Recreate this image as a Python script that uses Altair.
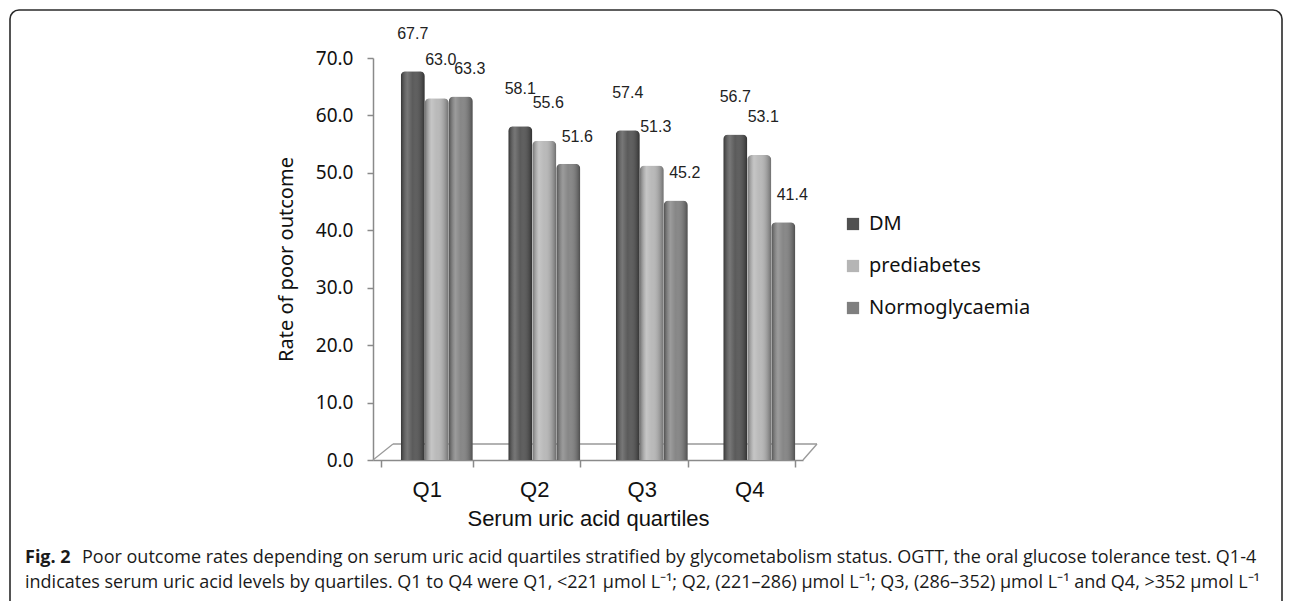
import altair as alt
import pandas as pd

# Poor outcome rate (%) by serum uric acid quartile and glycometabolism status
quartiles = ["Q1", "Q2", "Q3", "Q4"]
groups = ["DM", "prediabetes", "Normoglycaemia"]
dm_rates = [67.7, 58.1, 57.4, 56.7]
prediabetes_rates = [63.0, 55.6, 51.3, 53.1]
normo_rates = [63.3, 51.6, 45.2, 41.4]
y_ticks = [0, 10, 20, 30, 40, 50, 60, 70]

group_colors = ["#505050", "#b5b5b5", "#7f7f7f"]

caption_bold = "Fig. 2"
caption_line1 = ("Poor outcome rates depending on serum uric acid quartiles stratified by "
                 "glycometabolism status. OGTT, the oral glucose tolerance test. Q1-4")
caption_line2 = ("indicates serum uric acid levels by quartiles. Q1 to Q4 were Q1, <221 \u03bcmol L\u207b\u00b9; "
                 "Q2, (221\u2013286) \u03bcmol L\u207b\u00b9; Q3, (286\u2013352) \u03bcmol L\u207b\u00b9 "
                 "and Q4, >352 \u03bcmol L\u207b\u00b9")

rows = []
for g, series in zip(groups, [dm_rates, prediabetes_rates, normo_rates]):
    for q, v in zip(quartiles, series):
        rows.append({"quartile": q, "group": g, "value": v})
df = pd.DataFrame(rows)

W, H = 430, 402
LEFT, TOP = 373, 58

x_enc = alt.X(
    "quartile:N",
    sort=quartiles,
    scale=alt.Scale(paddingInner=0.144, paddingOuter=0.072),
    axis=alt.Axis(
        title="Serum uric acid quartiles", labelAngle=0,
        labelFont="Liberation Sans", labelFontSize=22, labelColor="#111",
        titleFont="Liberation Sans", titleFontSize=22, titleFontWeight="normal",
        titleColor="#111", domainColor="#8a8a8a", domainWidth=1.5,
        tickColor="#8a8a8a", tickWidth=1.5, tickSize=7, labelPadding=12,
        titlePadding=8, tickBand="extent",
    ),
)
xoff_enc = alt.XOffset(
    "group:N", sort=groups,
    scale=alt.Scale(domain=groups, paddingInner=0, paddingOuter=0.4167, align=1),
)
y_enc = alt.Y(
    "value:Q",
    scale=alt.Scale(domain=[0, 70], nice=False),
    axis=alt.Axis(
        values=y_ticks, format=".1f", title="Rate of poor outcome", grid=False,
        labelFont="Noto Sans", labelFontSize=19, labelColor="#111",
        titleFont="Noto Sans", titleFontSize=20, titleFontWeight="normal",
        titleColor="#111", domainColor="#8a8a8a", domainWidth=1.5,
        tickColor="#8a8a8a", tickWidth=1.5, tickSize=6, labelPadding=14,
        titlePadding=19,
    ),
)

base = alt.Chart(df).encode(x=x_enc, xOffset=xoff_enc, y=y_enc)

bars = base.mark_bar(cornerRadiusTopLeft=5, cornerRadiusTopRight=5).encode(
    color=alt.Color(
        "group:N",
        scale=alt.Scale(domain=groups, range=group_colors),
        legend=alt.Legend(
            title=None, orient="none", legendX=470, legendY=156,
            symbolType="square", symbolSize=150, symbolStrokeWidth=0,
            labelFont="Noto Sans", labelFontSize=20, labelColor="#111",
            labelLimit=0, rowPadding=22, labelOffset=6, padding=0,
        ),
    )
)

# cylinder-style shading laid over the solid bars
shade = base.mark_bar(
    cornerRadiusTopLeft=5, cornerRadiusTopRight=5,
    fill=alt.Gradient(
        gradient="linear", x1=0, x2=1, y1=0, y2=0,
        stops=[
            alt.GradientStop(offset=0, color="rgba(0,0,0,0.38)"),
            alt.GradientStop(offset=0.28, color="rgba(255,255,255,0.22)"),
            alt.GradientStop(offset=0.5, color="rgba(255,255,255,0.06)"),
            alt.GradientStop(offset=1, color="rgba(0,0,0,0.40)"),
        ],
    ),
)

label_shift = {"DM": (0, -37), "prediabetes": (4, -38), "Normoglycaemia": (9, -27)}
label_layers = []
for g in groups:
    dx, dy = label_shift[g]
    label_layers.append(
        base.transform_filter(alt.datum.group == g)
        .mark_text(dx=dx, dy=dy, font="Liberation Sans", fontSize=16, color="#222")
        .encode(text=alt.Text("value:Q", format=".1f"))
    )

one = pd.DataFrame({"k": [0]})

# pseudo-3D floor under the bars
floor_color = "#999999"
floor = alt.layer(
    alt.Chart(one).mark_rule(color=floor_color, strokeWidth=1.3).encode(
        x=alt.value(0), x2=alt.value(20), y=alt.value(H), y2=alt.value(H - 16)),
    alt.Chart(one).mark_rule(color=floor_color, strokeWidth=1.3).encode(
        x=alt.value(20), x2=alt.value(W + 14), y=alt.value(H - 16), y2=alt.value(H - 16)),
    alt.Chart(one).mark_rule(color=floor_color, strokeWidth=1.3).encode(
        x=alt.value(W), x2=alt.value(W + 14), y=alt.value(H), y2=alt.value(H - 16)),
)

frame = alt.Chart(one).mark_rect(
    fill="transparent", stroke="#2a2a2a", strokeWidth=1.6, cornerRadius=9
).encode(
    x=alt.value(10 - LEFT), x2=alt.value(1282 - LEFT),
    y=alt.value(10 - TOP), y2=alt.value(760),
)

cap_font = "Open Sans"
cap_size = 18
caption = alt.layer(
    alt.Chart(one).mark_text(align="left", baseline="alphabetic", font=cap_font,
                             fontSize=cap_size, fontWeight="bold", color="#1a1a1a",
                             text=caption_bold).encode(
        x=alt.value(25 - LEFT), y=alt.value(563 - TOP)),
    alt.Chart(one).mark_text(align="left", baseline="alphabetic", font=cap_font,
                             fontSize=cap_size, color="#1a1a1a",
                             text=caption_line1).encode(
        x=alt.value(82 - LEFT), y=alt.value(563 - TOP)),
    alt.Chart(one).mark_text(align="left", baseline="alphabetic", font=cap_font,
                             fontSize=cap_size, color="#1a1a1a",
                             text=caption_line2).encode(
        x=alt.value(25 - LEFT), y=alt.value(588 - TOP)),
)

chart = alt.layer(
    frame, floor, bars, shade, *label_layers, caption
).properties(
    width=W, height=H,
    autosize=alt.AutoSizeParams(type="none"),
    padding={"left": LEFT, "top": TOP, "right": 1292 - LEFT - W, "bottom": 601 - TOP - H},
    background="white",
).configure_view(stroke=None)

chart.save("out.html", embed_options={"renderer": "svg", "actions": False})
